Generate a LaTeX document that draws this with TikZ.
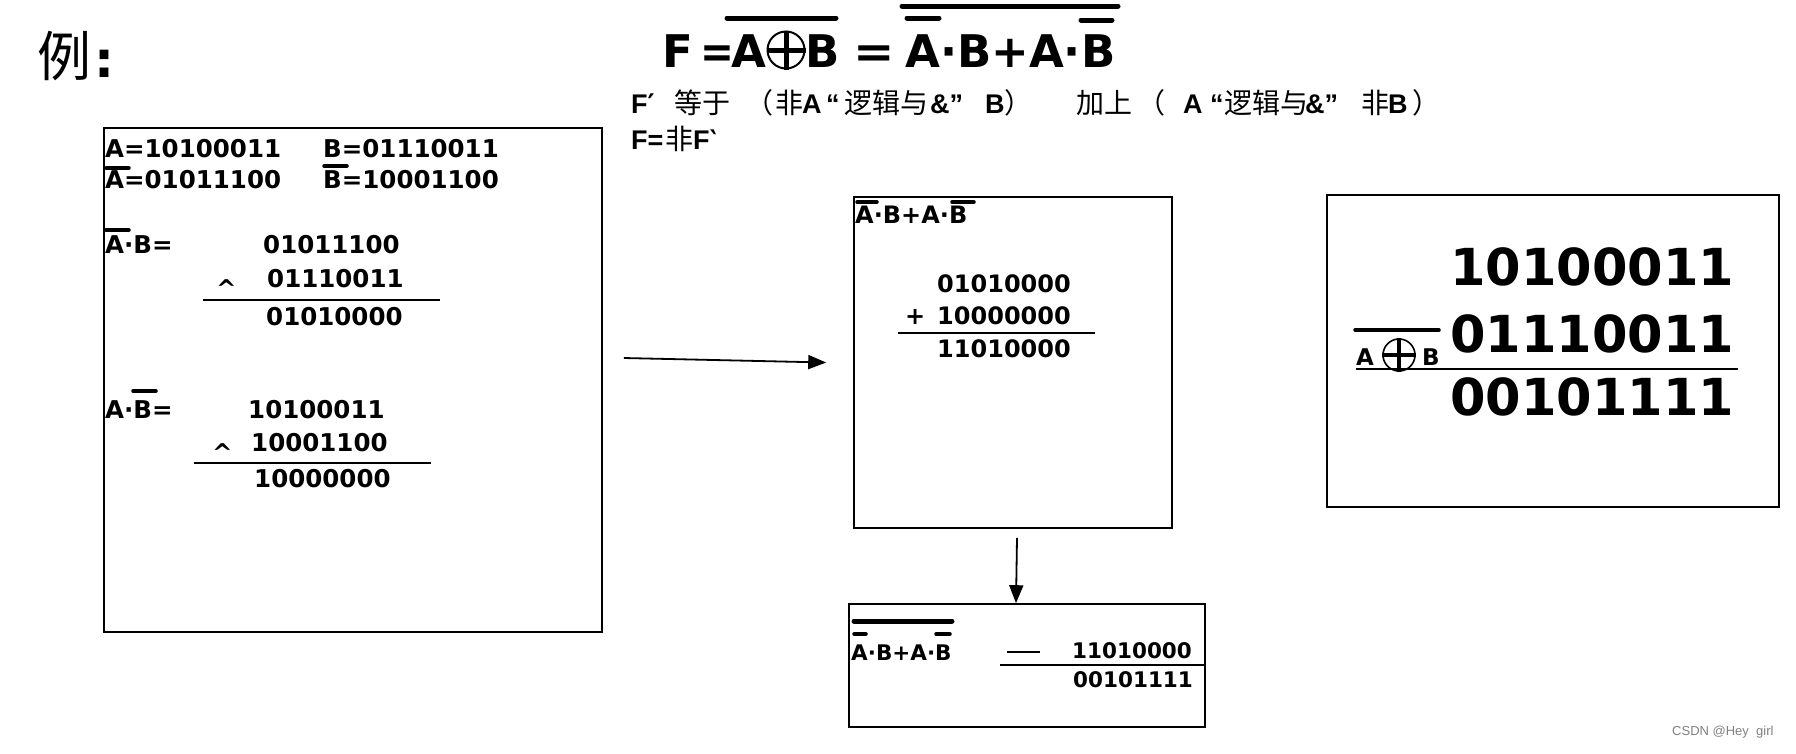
\documentclass[tikz,border=0pt]{standalone}
\usepackage{fontspec}
\usepackage{graphicx}
\setmainfont{DejaVu Sans}
\newfontfamily\cjk{Noto Sans CJK SC}
\newfontfamily\lib{Liberation Sans}
\usetikzlibrary{arrows.meta}
\newcommand\myfs[1]{\fontsize{#1}{#1}\selectfont}
\newcommand\seg[2]{\makebox[#1pt][l]{#2}}
\newcommand\cj[1]{{\cjk\mdseries\myfs{28}#1}}
\begin{document}
\begin{tikzpicture}[x=1pt,y=-1pt,
  box/.style={draw, line width=1.6pt, inner sep=0pt},
  t/.style={anchor=base west, inner sep=0pt, font=\bfseries\myfs{24.5}},
  tm/.style={anchor=base west, inner sep=0pt, font=\bfseries\myfs{24}},
  tb/.style={anchor=base west, inner sep=0pt, font=\bfseries\myfs{51}},
  ts/.style={anchor=base west, inner sep=0pt, font=\bfseries\myfs{21.5}},
  th/.style={anchor=base west, inner sep=0pt, font=\bfseries\myfs{45}},
  tl/.style={anchor=base west, inner sep=0pt, font=\lib\bfseries\myfs{27}},
  bar/.style={line width=3.5pt, line cap=round},
  hbar/.style={line width=5pt, line cap=round},
  rulel/.style={line width=1.6pt},
  arr/.style={line width=1.8pt, -{Triangle[length=18pt,width=14pt]}}]
\useasboundingbox (0,0) rectangle (1796,753);
% title
\node[anchor=base west, inner sep=0pt, font=\cjk\myfs{54}] (title) at (37,76) {例};
\node[anchor=base west, inner sep=0pt, font=\bfseries\myfs{50}] (colon) at (94,77) {:};
% header formula
\node[th] (hF) at (662,67) {F};
\node[th] (hEq1) at (700,67) {\scalebox{0.9}[1]{=}};
\node[th] (hA) at (731,67) {A};
\node[circle, draw, line width=2pt, minimum size=37pt, inner sep=0pt] (hox) at (786,50) {};
\draw[line width=5pt] (hox.north) -- (hox.south) (hox.west) -- (hox.east);
\node[th] (hB) at (805,67) {B};
\draw[hbar] (727,18) -- (836,18);
\node[th] (hEq2) at (853,67) {\scalebox{1.1}[1]{=}};
\node[th] (hR) at (905,67) {A·B+A·B};
\draw[hbar] (902,6) -- (1118,6);
\draw[hbar] (907,18) -- (939,18);
\draw[hbar] (1081,20) -- (1112,20);
% explanation lines
\node[tl] (l1) at (631,113)
  {\seg{43}{F{\fontspec{DejaVu Sans}\bfseries ′}}\seg{71}{\cj{等于}}\seg{30}{\cj{（}}\seg{27}{\cj{非}}\seg{24}{A}\seg{18}{“}\seg{86}{\cj{逻辑与}}\seg{55}{\&”}\seg{19}{B}\seg{72}{\cj{）}}\seg{61}{\cj{加上}}\seg{46}{\cj{（}}\seg{27}{A}\seg{14}{“}\seg{81}{\cj{逻辑与}}\seg{56}{\&”}\seg{27}{\cj{非}}\seg{24}{B}\cj{）}};
\node[tl] (l2) at (631,149)
  {\seg{34}{F=}\seg{28}{\cj{非}}F{\fontspec{DejaVu Sans}\bfseries ‵}};
% boxes
\node[box, minimum width=498pt, minimum height=504pt] (b1) at (353,380) {};
\node[box, minimum width=318pt, minimum height=331pt] (b2) at (1013,362.5) {};
\node[box, minimum width=452pt, minimum height=312pt] (b3) at (1553,351) {};
\node[box, minimum width=356pt, minimum height=123pt] (b4) at (1027,665.5) {};
% arrows
\draw[arr] ([xshift=21pt,yshift=22pt]b1.east) -- ([xshift=-27pt]b2.west);
\draw[arr] ([xshift=4pt,yshift=-9pt]b2.south) -- ([xshift=-11pt]b4.north);
% box 1
\node[t] (a1) at (105,157) {A=10100011};
\node[t] (a2) at (323,157) {B=01110011};
\node[t] (a3) at (105,188) {A=01011100};
\draw[bar] (106,168) -- (129,168);
\node[t] (a4) at (323,188) {B=10001100};
\draw[bar] (324,166) -- (347,166);
\node[t] (a5) at (105,253) {A·B=};
\draw[bar] (106,230) -- (129,230);
\node[t] (a6) at (263,253) {01011100};
\node[t] (a7) at (216,297) {\textasciicircum};
\node[t] (a8) at (267,287) {01110011};
\draw[rulel] (203,300) -- (440,300);
\node[t] (a9) at (266,325) {01010000};
\node[t] (a10) at (105,418) {A·B=};
\draw[bar] (133,391) -- (156,391);
\node[t] (a11) at (248,418) {10100011};
\node[t] (a12) at (212,461) {\textasciicircum};
\node[t] (a13) at (251,451) {10001100};
\draw[rulel] (194,463) -- (431,463);
\node[t] (a14) at (254,487) {10000000};
% box 2
\node[tm] (c1) at (855,223) {A·B+A·B};
\draw[bar] (857,202) -- (877,202);
\draw[bar] (952,202) -- (974,202);
\node[tm] (c2) at (937,292) {01010000};
\node[tm] (c3) at (905,324) {+};
\node[tm] (c4) at (937,324) {10000000};
\draw[rulel] (898,333) -- (1095,333);
\node[tm] (c5) at (937,357) {11010000};
% box 3
\node[tb] (d1) at (1450,285) {10100011};
\node[tb] (d2) at (1450,352) {01110011};
\node[tb] (d3) at (1450,415) {00101111};
\draw[line width=2pt] (1356,369) -- (1738,369);
\node[anchor=base west, inner sep=0pt, font=\bfseries\myfs{23}] (dA) at (1356,365) {A};
\node[circle, draw, line width=1.6pt, minimum size=32pt, inner sep=0pt] (dox) at (1399,355) {};
\draw[line width=4pt] (dox.north) -- (dox.south) (dox.west) -- (dox.east);
\node[anchor=base west, inner sep=0pt, font=\bfseries\myfs{23}] (dB) at (1422,365) {B};
\draw[bar] (1355,330) -- (1439,330);
% box 4
\node[ts] (e1) at (851,660) {A·B+A·B};
\draw[bar] (854,634) -- (866,634);
\draw[bar] (936,634) -- (950,634);
\draw[hbar] (854,621) -- (952,621);
\draw[rulel] (1007,652) -- (1040,652);
\node[ts] (e2) at (1072,658) {11010000};
\draw[rulel] (1000,665) -- (1205,665);
\node[ts] (e3) at (1073,687) {00101111};
% watermark
\node[anchor=base west, inner sep=0pt, font=\lib\myfs{13}, text=gray] (wm) at (1672,735) {CSDN @Hey\ \ girl};
\end{tikzpicture}
\end{document}
